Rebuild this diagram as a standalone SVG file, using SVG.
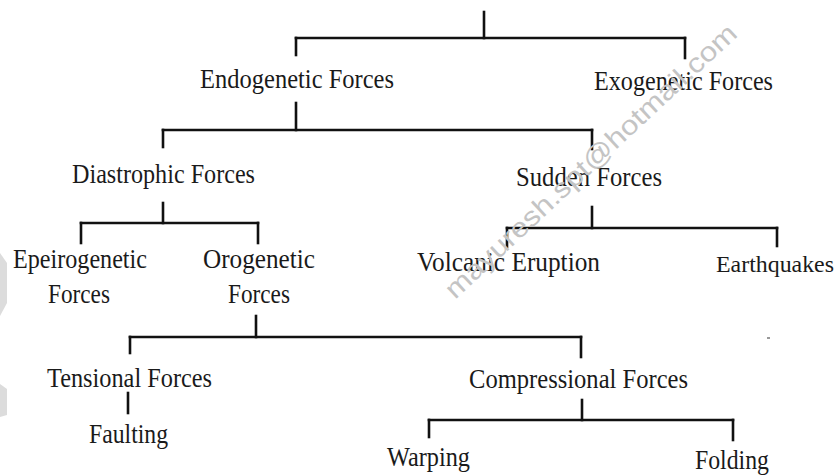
<svg xmlns="http://www.w3.org/2000/svg" width="839" height="475" viewBox="0 0 839 475">
<style>
.t{font-family:"Liberation Serif","Times New Roman",serif;font-size:28px;fill:#1a1a1a}
.c line{stroke:#111;stroke-width:2.6;stroke-linecap:square}
.wm{font-family:"Liberation Sans",Arial,sans-serif;font-size:27px;fill:#c4c4c4}
</style>
<rect width="839" height="475" fill="#fff"/>
<polygon points="0,253 7,263 7,303 0,316" fill="#dcdcdc"/>
<polygon points="0,384 7,389 7,415 0,417" fill="#dcdcdc"/>
<rect x="767" y="337" width="3" height="2" fill="#999"/>
<g class="c" id="connectors">
<line x1="484" y1="12" x2="484" y2="38"/>
<line x1="296" y1="38" x2="685" y2="38"/>
<line x1="296" y1="38" x2="296" y2="55"/>
<line x1="685" y1="38" x2="685" y2="58"/>
<line x1="296" y1="103" x2="296" y2="130"/>
<line x1="163" y1="130" x2="592" y2="130"/>
<line x1="163" y1="130" x2="163" y2="147"/>
<line x1="592" y1="130" x2="592" y2="149"/>
<line x1="163" y1="203" x2="163" y2="223"/>
<line x1="81" y1="223" x2="258" y2="223"/>
<line x1="81" y1="223" x2="81" y2="243"/>
<line x1="258" y1="223" x2="258" y2="243"/>
<line x1="592" y1="207" x2="592" y2="228"/>
<line x1="507" y1="228" x2="777" y2="228"/>
<line x1="507" y1="228" x2="507" y2="247"/>
<line x1="777" y1="228" x2="777" y2="246"/>
<line x1="256" y1="316" x2="256" y2="337"/>
<line x1="130" y1="337" x2="581" y2="337"/>
<line x1="130" y1="337" x2="130" y2="353"/>
<line x1="581" y1="337" x2="581" y2="357"/>
<line x1="128" y1="393" x2="128" y2="413"/>
<line x1="582" y1="400" x2="582" y2="420"/>
<line x1="429" y1="420" x2="733" y2="420"/>
<line x1="429" y1="420" x2="429" y2="437"/>
<line x1="733" y1="420" x2="733" y2="440"/>
</g>
<g id="endogenetic"><text class="t" x="200" y="88" textLength="194" lengthAdjust="spacingAndGlyphs">Endogenetic Forces</text></g>
<g id="exogenetic"><text class="t" x="594" y="90" textLength="179" lengthAdjust="spacingAndGlyphs">Exogenetic Forces</text></g>
<g id="diastrophic"><text class="t" x="72" y="183" textLength="183" lengthAdjust="spacingAndGlyphs">Diastrophic Forces</text></g>
<g id="sudden"><text class="t" x="516" y="186" textLength="146" lengthAdjust="spacingAndGlyphs">Sudden Forces</text></g>
<g id="epeirogenetic"><text class="t" x="13" y="268" textLength="134" lengthAdjust="spacingAndGlyphs">Epeirogenetic</text><text class="t" x="48" y="303" textLength="62" lengthAdjust="spacingAndGlyphs">Forces</text></g>
<g id="orogenetic"><text class="t" x="203" y="268" textLength="112" lengthAdjust="spacingAndGlyphs">Orogenetic</text><text class="t" x="228" y="303" textLength="62" lengthAdjust="spacingAndGlyphs">Forces</text></g>
<g id="volcanic"><text class="t" x="417" y="271" textLength="183" lengthAdjust="spacingAndGlyphs">Volcanic Eruption</text></g>
<g id="earthquakes"><text class="t" x="716" y="272" style="font-size:24px" textLength="118" lengthAdjust="spacingAndGlyphs">Earthquakes</text></g>
<g id="tensional"><text class="t" x="47" y="387" textLength="165" lengthAdjust="spacingAndGlyphs">Tensional Forces</text></g>
<g id="compressional"><text class="t" x="469" y="388" textLength="219" lengthAdjust="spacingAndGlyphs">Compressional Forces</text></g>
<g id="faulting"><text class="t" x="89" y="443" textLength="79" lengthAdjust="spacingAndGlyphs">Faulting</text></g>
<g id="warping"><text class="t" x="387" y="466" textLength="83" lengthAdjust="spacingAndGlyphs">Warping</text></g>
<g id="folding"><text class="t" x="695" y="469" textLength="74" lengthAdjust="spacingAndGlyphs">Folding</text></g>
<text class="wm" transform="translate(455 300) rotate(-43)" textLength="388" lengthAdjust="spacingAndGlyphs">mayuresh.spt@hotmail.com</text>
</svg>
